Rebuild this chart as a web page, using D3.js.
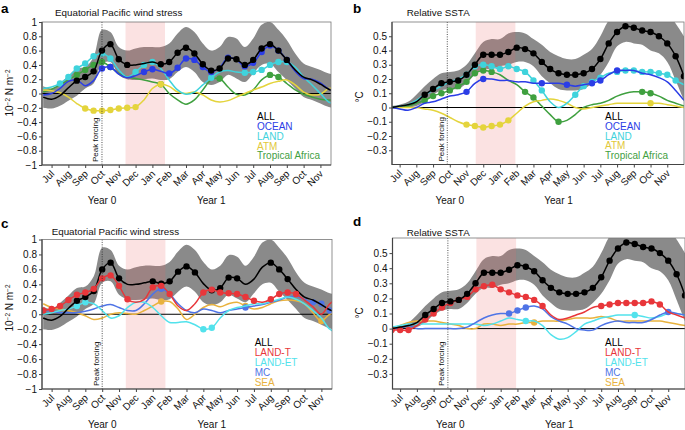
<!DOCTYPE html>
<html><head><meta charset="utf-8">
<script src="https://cdn.jsdelivr.net/npm/d3@7"></script>
<style>
body{margin:0;background:#fff;}
svg{display:block;font-family:"Liberation Sans",Arial,Helvetica,sans-serif;}
</style></head><body>
<svg id="chart" width="685" height="430"></svg>
<script>
// ---------- DATA ----------
const months = ["Jul","Aug","Sep","Oct","Nov","Dec","Jan","Feb","Mar","Apr","May","Jun","Jul","Aug","Sep","Oct","Nov"];
const yearLabels = [{text:"Year 0", m:3},{text:"Year 1", m:9.5}];
// time (months since 1 Jul Year 0), half-month steps
const xGrid = [-0.5,0,0.5,1,1.5,2,2.5,3,3.5,4,4.5,5,5.5,6,6.5,7,7.5,8,8.5,9,9.5,10,10.5,11,11.5,12,12.5,13,13.5,14,14.5,15,15.5,16,16.5,17];
const windTicks = [-1,-0.8,-0.6,-0.4,-0.2,0,0.2,0.4,0.6,0.8,1];
const sstTicks = [-0.3,-0.2,-0.1,0,0.1,0.2,0.3,0.4,0.5];
const windPeak = 3.0, sstPeak = 2.85;
const windDJF = [4.4, 6.75], sstDJF = [4.55, 6.92];

// wind stress (10^-2 N m^-2)
const windAll   = [-0.05,-0.08,-0.03,0.08,0.18,0.23,0.31,0.60,0.69,0.48,0.40,0.40,0.42,0.44,0.41,0.44,0.57,0.64,0.56,0.41,0.32,0.35,0.49,0.48,0.40,0.47,0.63,0.69,0.60,0.47,0.33,0.23,0.19,0.13,0.06,0.02];
const windAllHi = [0.10,0.07,0.15,0.25,0.35,0.37,0.51,0.89,0.86,0.65,0.60,0.63,0.65,0.65,0.65,0.70,0.84,0.93,0.86,0.70,0.60,0.65,0.79,0.77,0.65,0.77,0.96,1.0,0.89,0.75,0.56,0.42,0.37,0.33,0.28,0.26];
const windAllLo = [-0.20,-0.21,-0.17,-0.10,-0.03,0.07,0.14,0.42,0.44,0.26,0.20,0.19,0.20,0.21,0.19,0.20,0.30,0.37,0.30,0.16,0.12,0.16,0.26,0.21,0.16,0.28,0.40,0.42,0.30,0.19,0.07,-0.05,-0.09,-0.14,-0.19,-0.21];
const windOcean = [-0.02,0.0,0.07,0.17,0.19,0.11,0.18,0.35,0.37,0.27,0.22,0.25,0.30,0.34,0.31,0.28,0.36,0.49,0.47,0.37,0.30,0.36,0.50,0.47,0.38,0.43,0.58,0.67,0.60,0.47,0.31,0.21,0.20,0.15,0.06,0.03];
const windLand  = [0.07,0.09,0.14,0.23,0.35,0.42,0.52,0.56,0.49,0.33,0.23,0.30,0.40,0.44,0.35,0.19,0.05,-0.01,0.02,0.12,0.22,0.30,0.32,0.30,0.29,0.30,0.33,0.40,0.44,0.44,0.37,0.23,0.12,0.0,-0.12,-0.15];
const windAtm   = [0.05,0.04,0.01,-0.05,-0.14,-0.21,-0.24,-0.24,-0.23,-0.21,-0.20,-0.19,-0.09,0.07,0.13,0.10,0.02,0.0,0.02,-0.02,-0.09,-0.12,-0.10,-0.05,0.0,0.05,0.09,0.14,0.17,0.19,0.12,0.02,-0.02,-0.01,0.07,0.08];
const windTA    = [0.02,0.06,0.12,0.19,0.26,0.33,0.40,0.44,0.37,0.28,0.23,0.21,0.19,0.16,0.13,0.0,-0.09,-0.15,-0.09,0.05,0.19,0.21,0.09,-0.01,-0.02,0.05,0.19,0.26,0.23,0.14,0.05,-0.01,-0.05,-0.08,-0.09,-0.09];
const windLandT = [0.05,0.07,0.11,0.19,0.26,0.29,0.34,0.48,0.52,0.38,0.20,0.16,0.20,0.36,0.38,0.27,0.11,0.05,0.14,0.29,0.33,0.29,0.28,0.27,0.23,0.18,0.16,0.20,0.27,0.29,0.27,0.19,0.10,0.0,0.14,0.22];
const windLandET= [0.0,0.02,0.05,0.07,0.11,0.16,0.14,0.05,-0.05,-0.02,0.09,0.16,0.16,0.09,-0.02,-0.11,-0.11,-0.10,-0.14,-0.20,-0.18,-0.05,0.05,0.09,0.11,0.14,0.14,0.17,0.20,0.23,0.20,0.14,0.05,-0.05,-0.20,-0.25];
const windMC    = [0.05,0.04,0.02,0.02,0.02,0.04,0.07,0.11,0.13,0.09,0.05,0.05,0.14,0.27,0.34,0.27,0.14,0.05,0.02,0.07,0.05,0.02,0.05,0.07,0.09,0.11,0.13,0.16,0.19,0.23,0.24,0.20,0.16,0.14,0.05,0.02];
const windSea   = [0.14,0.09,0.07,0.05,0.02,-0.02,-0.07,-0.05,0.0,0.02,0.01,0.0,0.05,0.11,0.17,0.17,0.07,-0.07,0.0,0.09,0.13,0.10,0.14,0.16,0.11,0.07,0.09,0.14,0.18,0.19,0.18,0.14,0.02,-0.09,0.0,0.02];

// relative SSTA (°C)
const sstAll    = [0.0,0.01,0.02,0.04,0.09,0.13,0.17,0.18,0.19,0.23,0.30,0.37,0.37,0.37,0.39,0.42,0.41,0.38,0.32,0.27,0.24,0.23,0.23,0.24,0.27,0.34,0.45,0.53,0.57,0.56,0.54,0.53,0.50,0.45,0.36,0.22];
const sstAllHi  = [0.01,0.02,0.04,0.09,0.15,0.20,0.24,0.25,0.26,0.30,0.38,0.46,0.48,0.48,0.52,0.53,0.52,0.48,0.44,0.39,0.36,0.34,0.34,0.37,0.41,0.50,0.61,0.66,0.68,0.66,0.68,0.68,0.68,0.66,0.59,0.50];
const sstAllLo  = [0.0,0.0,0.0,0.01,0.04,0.09,0.12,0.13,0.13,0.17,0.23,0.27,0.27,0.29,0.30,0.32,0.32,0.29,0.22,0.17,0.13,0.12,0.12,0.13,0.17,0.23,0.32,0.43,0.46,0.45,0.44,0.40,0.38,0.32,0.19,0.05];
const sstOcean  = [0.0,-0.01,-0.02,0.0,0.03,0.04,0.06,0.08,0.09,0.11,0.17,0.20,0.20,0.19,0.19,0.18,0.18,0.17,0.17,0.17,0.17,0.16,0.15,0.16,0.17,0.19,0.23,0.26,0.26,0.26,0.24,0.23,0.21,0.18,0.12,0.05];
const sstLand   = [0.0,0.01,0.02,0.05,0.09,0.12,0.15,0.18,0.20,0.23,0.29,0.30,0.29,0.27,0.29,0.27,0.25,0.19,0.12,0.04,0.0,0.03,0.09,0.15,0.18,0.21,0.24,0.25,0.26,0.26,0.25,0.25,0.24,0.23,0.19,0.16];
const sstAtm    = [0,0,0,0,-0.01,-0.02,-0.04,-0.07,-0.10,-0.12,-0.13,-0.14,-0.13,-0.12,-0.09,-0.04,0.01,0.04,0.05,0.06,0.05,0.03,0.0,-0.01,0.0,0.01,0.02,0.03,0.03,0.03,0.03,0.03,0.03,0.02,0.01,0.0];
const sstTA     = [0.0,0.0,0.01,0.03,0.05,0.08,0.10,0.12,0.15,0.18,0.24,0.26,0.25,0.23,0.19,0.16,0.11,0.07,0.01,-0.05,-0.10,-0.09,-0.05,0.0,0.02,0.03,0.05,0.08,0.10,0.11,0.11,0.10,0.08,0.05,0.03,0.01];
const sstLandT  = [-0.01,-0.01,-0.01,0.02,0.06,0.10,0.14,0.17,0.19,0.21,0.26,0.28,0.29,0.26,0.24,0.22,0.21,0.19,0.15,0.09,0.06,0.07,0.09,0.11,0.14,0.15,0.16,0.17,0.17,0.17,0.17,0.18,0.16,0.11,0.09,0.07];
const sstLandET = [0.01,0.02,0.03,0.03,0.03,0.03,0.03,0.03,0.03,0.03,0.03,0.02,0.03,0.05,0.07,0.06,0.05,0.05,0.02,-0.04,-0.07,-0.06,-0.02,0.03,0.05,0.07,0.08,0.09,0.09,0.09,0.08,0.07,0.08,0.10,0.10,0.09];
const sstMC     = [0.0,0.0,0.02,0.0,0.0,0.0,0.0,0.0,0.0,0.01,0.04,0.07,0.09,0.10,0.10,0.12,0.14,0.15,0.13,0.08,0.05,0.03,0.0,-0.01,-0.01,0.02,0.04,0.05,0.04,0.04,0.04,0.06,0.09,0.11,0.10,0.09];
const sstSea    = [0.0,0.02,0.04,0.05,0.05,0.05,0.04,0.03,0.02,0.0,0.0,0.03,0.03,0.02,0.03,0.03,0.04,0.04,0.05,0.05,0.05,0.06,0.07,0.07,0.07,0.08,0.07,0.05,0.05,0.05,0.05,0.05,0.05,0.04,0.03,0.02];

// significant periods (month ranges) marked with dots
const sigA = {all:[[1.5,4.5],[6.5,14]], ocean:[[3,3.5],[5.5,6],[7,9.5],[10.5,10.5],[11.5,14]], land:[[0.5,3.5],[5,6],[9.5,9.5],[11.5,14]], atm:[[2,5],[6.5,6.5]], ta:[[1.5,3.5],[6.5,6.5],[10,10],[13,13.5]]};
const sigB = {all:[[1.5,17]], ocean:[[4,4],[5,5],[8.5,8.5],[10,10],[11.5,12],[13,13]], land:[[4,8.5],[10.5,12],[13,16.5]], atm:[[4,6.5],[15,15]], ta:[[1.5,5.5],[7.5,8],[9.5,9.5],[14.5,15]]};
const sigC = {all:[[1.5,4],[6,8.5],[9.5,11],[13,14]], landT:[[-0.5,4.5],[6,7],[9,12],[13,14.5]], landET:[[1.5,2],[9,9.5]], mc:[[6.5,6.5],[11.5,11.5],[15.5,16.5]], sea:[[6.5,6.5],[11.5,11.5],[16,16]]};
const sigD = {all:[[1.5,17]], landT:[[-0.5,0.5],[1.5,8.5],[12,15.5]], landET:[[7.5,7.5],[14,14]], mc:[[6.5,7.5],[16,16]], sea:[[8,8]]};

// ---------- STYLE ----------
const C = {all:"#000000", ocean:"#2b3de6", land:"#3fd3dc", atm:"#e4d43c", ta:"#3fa03f",
           landT:"#e8363a", landET:"#52e2ec", mc:"#4f74e6", sea:"#e8b23e"};
const legC = {atm:"#e2c83a"};

const svg = d3.select("#chart");

const panels = [
 {id:"a", box:[42,331,22,165], xDom:[-0.57,16.63], yDom:[-1,1], ticks:windTicks, peak:windPeak, band:windDJF,
  hi:windAllHi, lo:windAllLo, title:"Equatorial Pacific wind stress", titlePos:[55,15.5], letterPos:[0,13],
  ylab:"wind", ylabPos:[13,93], legPos:[257,120.3], legStep:9.75,
  series:[
   {name:"Tropical Africa", v:windTA, c:C.ta, sig:sigA.ta},
   {name:"ATM", v:windAtm, c:C.atm, sig:sigA.atm},
   {name:"LAND", v:windLand, c:C.land, sig:sigA.land},
   {name:"OCEAN", v:windOcean, c:C.ocean, sig:sigA.ocean},
   {name:"ALL", v:windAll, c:C.all, sig:sigA.all}],
  legend:[["ALL",C.all],["OCEAN",C.ocean],["LAND",C.land],["ATM",legC.atm],["Tropical Africa",C.ta]]},
 {id:"b", box:[392,684,22,164.5], xDom:[-0.455,17.0], yDom:[-0.4,0.6], ticks:sstTicks, peak:sstPeak, band:sstDJF,
  hi:sstAllHi, lo:sstAllLo, title:"Relative SSTA", titlePos:[406.7,16], letterPos:[352,13],
  ylab:"sst", ylabPos:[363,97], legPos:[605,120], legStep:9.75,
  series:[
   {name:"Tropical Africa", v:sstTA, c:C.ta, sig:sigB.ta},
   {name:"ATM", v:sstAtm, c:C.atm, sig:sigB.atm},
   {name:"LAND", v:sstLand, c:C.land, sig:sigB.land},
   {name:"OCEAN", v:sstOcean, c:C.ocean, sig:sigB.ocean},
   {name:"ALL", v:sstAll, c:C.all, sig:sigB.all}],
  legend:[["ALL",C.all],["OCEAN",C.ocean],["LAND",C.land],["ATM",legC.atm],["Tropical Africa",C.ta]]},
 {id:"c", box:[42,332,239.5,389], xDom:[-0.57,16.63], yDom:[-1,1], ticks:windTicks, peak:windPeak, band:windDJF,
  hi:windAllHi, lo:windAllLo, title:"Equatorial Pacific wind stress", titlePos:[51.7,235], letterPos:[0,228],
  ylab:"wind", ylabPos:[13,308], legPos:[254.7,346], legStep:9.9,
  series:[
   {name:"SEA", v:windSea, c:C.sea, sig:sigC.sea},
   {name:"MC", v:windMC, c:C.mc, sig:sigC.mc},
   {name:"LAND-ET", v:windLandET, c:C.landET, sig:sigC.landET},
   {name:"ALL", v:windAll, c:C.all, sig:sigC.all},
   {name:"LAND-T", v:windLandT, c:C.landT, sig:sigC.landT}],
  legend:[["ALL",C.all],["LAND-T",C.landT],["LAND-ET",C.landET],["MC",C.mc],["SEA",C.sea]]},
 {id:"d", box:[392.5,685,238,389], xDom:[-0.455,17.0], yDom:[-0.4,0.6], ticks:sstTicks, peak:sstPeak, band:sstDJF,
  hi:sstAllHi, lo:sstAllLo, title:"Relative SSTA", titlePos:[406.7,235.5], letterPos:[352,226],
  ylab:"sst", ylabPos:[363,313], legPos:[605,346], legStep:9.9,
  series:[
   {name:"SEA", v:sstSea, c:C.sea, sig:sigD.sea},
   {name:"LAND-ET", v:sstLandET, c:C.landET, sig:sigD.landET},
   {name:"MC", v:sstMC, c:C.mc, sig:sigD.mc},
   {name:"LAND-T", v:sstLandT, c:C.landT, sig:sigD.landT},
   {name:"ALL", v:sstAll, c:C.all, sig:sigD.all}],
  legend:[["ALL",C.all],["LAND-T",C.landT],["LAND-ET",C.landET],["MC",C.mc],["SEA",C.sea]]}
];

const curve = d3.curveCatmullRom.alpha(0.5);
const defs = svg.append("defs");

panels.forEach(p => {
  const [L,R,T,B] = p.box;
  const x = d3.scaleLinear().domain(p.xDom).range([L,R]);
  const y = d3.scaleLinear().domain(p.yDom).range([B,T]);
  const g = svg.append("g");
  defs.append("clipPath").attr("id","clip"+p.id).append("rect")
    .attr("x",L).attr("y",T).attr("width",R-L).attr("height",B-T);
  const pg = g.append("g").attr("clip-path",`url(#clip${p.id})`);

  // uncertainty band of ALL
  const area = d3.area().x((d,i)=>x(xGrid[i])).y0((d,i)=>y(p.lo[i])).y1((d,i)=>y(p.hi[i])).curve(curve);
  pg.append("path").datum(p.hi).attr("d",area).attr("fill","#8a8a8a");
  // DJF shading
  pg.append("rect").attr("x",x(p.band[0])).attr("y",T).attr("width",x(p.band[1])-x(p.band[0])).attr("height",B-T)
    .attr("fill","rgb(232,100,100)").attr("fill-opacity",0.19);
  // zero line
  pg.append("line").attr("x1",L).attr("x2",R).attr("y1",y(0)).attr("y2",y(0)).attr("stroke","#000").attr("stroke-width",1);
  // peak forcing
  g.append("line").attr("x1",x(p.peak)).attr("x2",x(p.peak)).attr("y1",T).attr("y2",B)
    .attr("stroke","#222").attr("stroke-width",0.8).attr("stroke-dasharray","1,1.4");
  g.append("text").attr("transform",`translate(${x(p.peak)-3.5},${B-3}) rotate(-90)`)
    .attr("font-size",8).attr("fill","#111").text("Peak forcing");

  // series
  const line = d3.line().x(d=>x(d[0])).y(d=>y(d[1])).curve(curve);
  p.series.forEach(s => {
    const pts = xGrid.map((m,i)=>[m,s.v[i]]);
    pg.append("path").datum(pts).attr("d",line).attr("fill","none").attr("stroke",s.c)
      .attr("stroke-width",1.5).attr("stroke-linejoin","round");
    const sig = pts.filter(d=>s.sig.some(r=>d[0]>=r[0]-1e-6 && d[0]<=r[1]+1e-6));
    pg.selectAll(null).data(sig).join("circle").attr("cx",d=>x(d[0])).attr("cy",d=>y(d[1]))
      .attr("r",3.2).attr("fill",s.c);
  });

  // frame
  g.append("rect").attr("x",L).attr("y",T).attr("width",R-L).attr("height",B-T)
    .attr("fill","none").attr("stroke","#777").attr("stroke-width",0.8);
  g.append("path").attr("d",`M${L},${T}V${B}H${R}`).attr("fill","none").attr("stroke","#444").attr("stroke-width",1.2);

  // y axis
  const ya = g.append("g").attr("transform",`translate(${L},0)`)
    .call(d3.axisLeft(y).tickValues(p.ticks).tickSize(3).tickPadding(2).tickFormat(d3.format("~g")));
  ya.select(".domain").remove();
  ya.selectAll("line").attr("stroke","#444");
  ya.selectAll("text").attr("font-size",10).attr("font-family",null).attr("fill","#111");

  // x axis
  const xa = g.append("g").attr("transform",`translate(0,${B})`)
    .call(d3.axisBottom(x).tickValues(months.map((m,i)=>i)).tickSize(3).tickFormat(""));
  xa.select(".domain").remove();
  xa.selectAll("line").attr("stroke","#444");
  g.selectAll(null).data(months).join("text")
    .attr("transform",(d,i)=>`translate(${x(i)+1},${B+7}) rotate(-45)`)
    .attr("text-anchor","end").attr("dy","0.35em").attr("font-size",10).attr("fill","#111").text(d=>d);
  g.selectAll(null).data(yearLabels).join("text")
    .attr("x",d=>x(d.m)).attr("y",B+39).attr("text-anchor","middle").attr("font-size",10).attr("fill","#111").text(d=>d.text);

  // title & letter
  g.append("text").attr("x",p.titlePos[0]).attr("y",p.titlePos[1]).attr("font-size",9.8).attr("fill","#111").text(p.title);
  g.append("text").attr("x",p.letterPos[0]+1).attr("y",p.letterPos[1]).attr("font-size",13.5).attr("font-weight","bold").text(p.id);

  // y label
  const yl = g.append("text").attr("transform",`translate(${p.ylabPos[0]},${p.ylabPos[1]}) rotate(-90)`)
    .attr("text-anchor","middle").attr("font-size",10).attr("fill","#111");
  if (p.ylab === "wind") {
    yl.append("tspan").text("10");
    yl.append("tspan").attr("baseline-shift","super").attr("font-size",6.5).text("\u22122");
    yl.append("tspan").text(" N m");
    yl.append("tspan").attr("baseline-shift","super").attr("font-size",6.5).text("\u22122");
  } else {
    yl.text("\u00B0C");
  }

  // legend
  g.selectAll(null).data(p.legend).join("text")
    .attr("x",p.legPos[0]).attr("y",(d,i)=>p.legPos[1]+i*p.legStep)
    .attr("font-size",10).attr("fill",d=>d[1]).text(d=>d[0]);
});
</script>
</body></html>
